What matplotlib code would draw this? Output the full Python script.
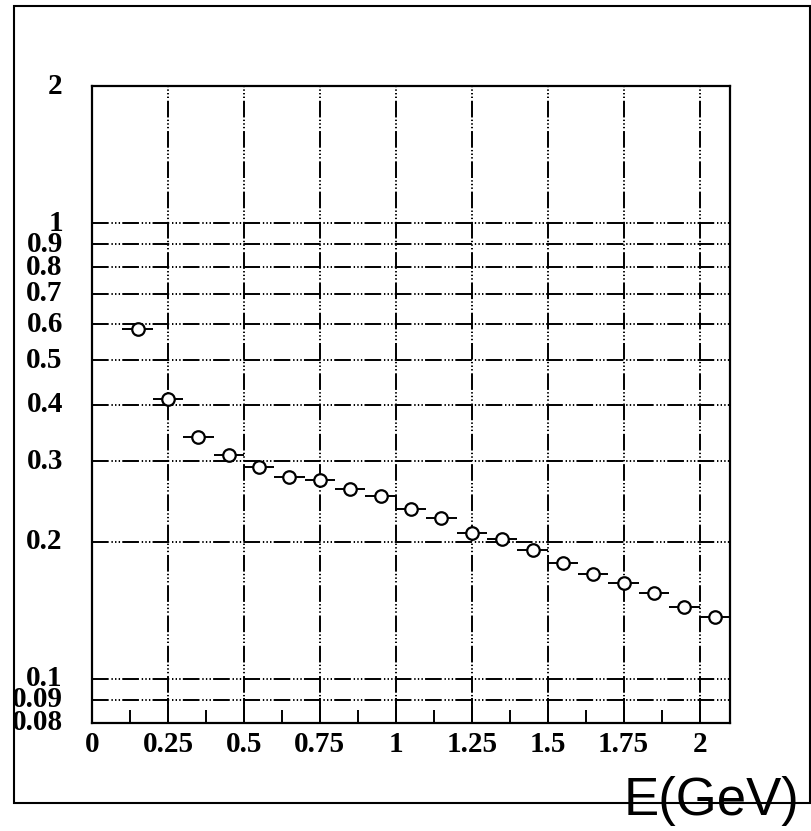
import matplotlib.pyplot as plt
import numpy as np
from matplotlib.patches import Rectangle
from matplotlib.ticker import FixedLocator, NullFormatter, MultipleLocator

plt.rcParams['lines.scale_dashes'] = False

# bin centres and contents
energy = [0.15, 0.25, 0.35, 0.45, 0.55, 0.65, 0.75, 0.85, 0.95, 1.05,
          1.15, 1.25, 1.35, 1.45, 1.55, 1.65, 1.75, 1.85, 1.95, 2.05]
values = [0.587, 0.411, 0.340, 0.310, 0.292, 0.277, 0.273, 0.261, 0.252, 0.236,
          0.225, 0.209, 0.203, 0.192, 0.180, 0.170, 0.162, 0.154, 0.144, 0.137]
bin_half = 0.05

x_ticks = [0, 0.25, 0.5, 0.75, 1, 1.25, 1.5, 1.75, 2]
x_labels = ['0', '0.25', '0.5', '0.75', '1', '1.25', '1.5', '1.75', '2']
y_ticks = [0.08, 0.09, 0.1, 0.2, 0.3, 0.4, 0.5, 0.6, 0.7, 0.8, 0.9, 1, 2]
y_labels = ['0.08', '0.09', '0.1', '0.2', '0.3', '0.4', '0.5', '0.6', '0.7', '0.8', '0.9', '1', '2']

grid_style = (0, (12, 2, 1, 1.6, 1, 1.6, 1, 1.6))
tick_font = dict(family='Liberation Serif', weight='bold', size=21)

fig = plt.figure(figsize=(8.11, 8.31), dpi=100)
ax = fig.add_axes([92 / 811, 1 - 723 / 831, 638 / 811, 637 / 831])

ax.set_yscale('log')
ax.set_xlim(0, 2.1)
ax.set_ylim(0.08, 2)

# grid lines, ROOT style dash-dot-dot-dot
for yv in y_ticks:
    if 0.08 < yv < 2:
        ax.axhline(yv, color='black', lw=1.4, ls=grid_style, zorder=1)
for xv in x_ticks[1:]:
    ax.axvline(xv, color='black', lw=1.4, ls=grid_style, zorder=1)

ax.errorbar(energy, values, xerr=bin_half, fmt='o', ms=9, mfc='white', mec='black',
            mew=1.6, ecolor='black', elinewidth=1.4, capsize=0, zorder=3)

ax.xaxis.set_major_locator(FixedLocator(x_ticks))
ax.set_xticklabels(x_labels, fontdict=tick_font)
ax.xaxis.set_minor_locator(MultipleLocator(0.125))
ax.tick_params(axis='x', which='major', direction='in', length=18, width=1.4, pad=6)
ax.tick_params(axis='x', which='minor', direction='in', length=9.5, width=1.4)

ax.yaxis.set_major_locator(FixedLocator(y_ticks))
ax.yaxis.set_minor_locator(FixedLocator([]))
ax.yaxis.set_minor_formatter(NullFormatter())
ax.set_yticklabels(y_labels, fontdict=tick_font)
ax.tick_params(axis='y', which='major', length=0, pad=21)
for lab in ax.get_yticklabels():
    lab.set_verticalalignment('center')

for sp in ax.spines.values():
    sp.set_linewidth(1.6)

# outer canvas frame
fig.patches.append(Rectangle((14 / 811, 1 - 803 / 831), 796 / 811, 797 / 831,
                             transform=fig.transFigure, fill=False,
                             edgecolor='black', lw=1.5, zorder=0))

fig.text(712 / 811, 1 - 801 / 831, 'E(GeV)', family='Liberation Sans', size=38,
         ha='center', va='center', color='black')

fig.savefig('out.png', dpi=100)
